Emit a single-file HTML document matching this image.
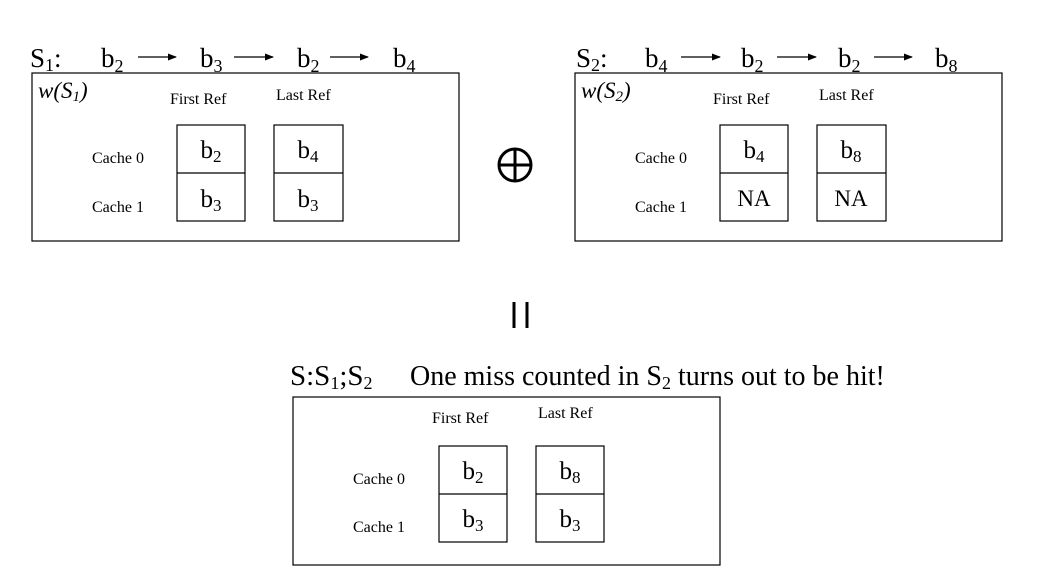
<!DOCTYPE html>
<html><head><meta charset="utf-8"><style>
html,body{margin:0;padding:0;background:#fff;}
svg{display:block;font-family:"Liberation Serif",serif;}
</style></head><body>
<svg width="1044" height="582" viewBox="0 0 1044 582" xmlns="http://www.w3.org/2000/svg">
<defs><marker id="a" markerWidth="9" markerHeight="8" refX="8" refY="4" orient="auto" markerUnits="userSpaceOnUse"><path d="M0,0.5 L9,4 L0,7.5 z" fill="#000"/></marker></defs>
<g font-size="27" fill="#000">
<text x="30" y="67">S<tspan font-size="18" dy="4">1</tspan><tspan dy="-4">:</tspan></text>
<text x="101" y="67">b<tspan font-size="18" dy="5">2</tspan></text>
<text x="200" y="67">b<tspan font-size="18" dy="5">3</tspan></text>
<text x="297" y="67">b<tspan font-size="18" dy="5">2</tspan></text>
<text x="393" y="67">b<tspan font-size="18" dy="5">4</tspan></text>
<text x="576" y="67">S<tspan font-size="18" dy="4">2</tspan><tspan dy="-4">:</tspan></text>
<text x="645" y="67">b<tspan font-size="18" dy="5">4</tspan></text>
<text x="741" y="67">b<tspan font-size="18" dy="5">2</tspan></text>
<text x="838" y="67">b<tspan font-size="18" dy="5">2</tspan></text>
<text x="935" y="67">b<tspan font-size="18" dy="5">8</tspan></text>
<text x="290" y="385" font-size="29">S:S<tspan font-size="18" dy="4">1</tspan><tspan dy="-4">;S</tspan><tspan font-size="18" dy="4">2</tspan></text>
<text x="410" y="385" font-size="28">One miss counted in S<tspan font-size="18" dy="4">2</tspan><tspan dy="-4"> turns out to be hit!</tspan></text>
</g>
<g stroke="#000" stroke-width="1.3" marker-end="url(#a)">
<line x1="138" y1="57" x2="176" y2="57"/><line x1="234" y1="57" x2="273" y2="57"/><line x1="330" y1="57" x2="368" y2="57"/>
<line x1="681" y1="57" x2="720" y2="57"/><line x1="777" y1="57" x2="816" y2="57"/><line x1="874" y1="57" x2="912" y2="57"/>
</g>
<g fill="none" stroke="#000" stroke-width="1.2">
<rect x="32" y="73" width="427" height="168"/>
<rect x="177" y="125" width="68" height="96"/><line x1="177" y1="173" x2="245" y2="173"/>
<rect x="274" y="125" width="69" height="96"/><line x1="274" y1="173" x2="343" y2="173"/>
<rect x="575" y="73" width="427" height="168"/>
<rect x="720" y="125" width="68" height="96"/><line x1="720" y1="173" x2="788" y2="173"/>
<rect x="817" y="125" width="69" height="96"/><line x1="817" y1="173" x2="886" y2="173"/>
<rect x="293" y="397" width="427" height="168"/>
<rect x="439" y="446" width="68" height="96"/><line x1="439" y1="494" x2="507" y2="494"/>
<rect x="536" y="446" width="68" height="96"/><line x1="536" y1="494" x2="604" y2="494"/>
<circle cx="515" cy="165" r="16" stroke-width="3"/>
</g>
<g stroke="#000" stroke-width="3"><line x1="499" y1="165" x2="531" y2="165"/><line x1="515" y1="149" x2="515" y2="181"/>
<line x1="514" y1="302" x2="514" y2="328"/><line x1="527" y1="302" x2="527" y2="328"/></g>
<g font-size="16" fill="#000">
<text x="38" y="98" font-size="23" font-style="italic">w(S<tspan font-size="15" dy="3">1</tspan><tspan dy="-3">)</tspan></text>
<text x="170" y="104">First Ref</text><text x="276" y="100">Last Ref</text>
<text x="92" y="163">Cache 0</text><text x="92" y="212">Cache 1</text>
<text x="581" y="98" font-size="23" font-style="italic">w(S<tspan font-size="15" dy="3">2</tspan><tspan dy="-3">)</tspan></text>
<text x="713" y="104">First Ref</text><text x="819" y="100">Last Ref</text>
<text x="635" y="163">Cache 0</text><text x="635" y="212">Cache 1</text>
<text x="432" y="423">First Ref</text><text x="538" y="418">Last Ref</text>
<text x="353" y="484">Cache 0</text><text x="353" y="532">Cache 1</text>
</g>
<g font-size="25" fill="#000" text-anchor="middle">
<text x="211" y="158">b<tspan font-size="17" dy="4">2</tspan></text>
<text x="211" y="207">b<tspan font-size="17" dy="4">3</tspan></text>
<text x="308" y="158">b<tspan font-size="17" dy="4">4</tspan></text>
<text x="308" y="207">b<tspan font-size="17" dy="4">3</tspan></text>
<text x="754" y="158">b<tspan font-size="17" dy="4">4</tspan></text>
<text x="754" y="206" font-size="23">NA</text>
<text x="851" y="158">b<tspan font-size="17" dy="4">8</tspan></text>
<text x="851" y="206" font-size="23">NA</text>
<text x="473" y="479">b<tspan font-size="17" dy="4">2</tspan></text>
<text x="473" y="527">b<tspan font-size="17" dy="4">3</tspan></text>
<text x="570" y="479">b<tspan font-size="17" dy="4">8</tspan></text>
<text x="570" y="527">b<tspan font-size="17" dy="4">3</tspan></text>
</g>
</svg>
</body></html>
